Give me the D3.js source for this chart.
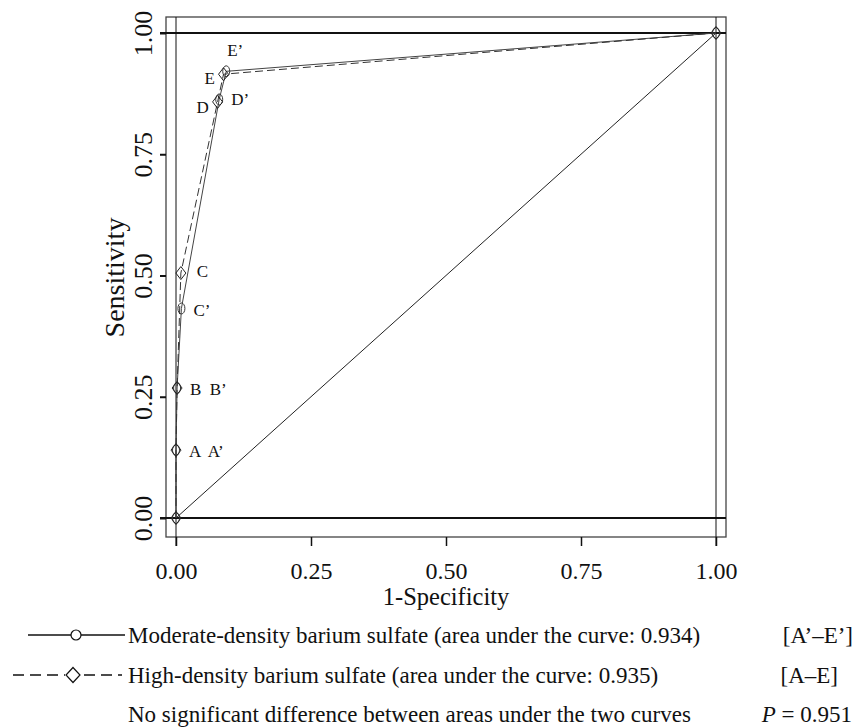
<!DOCTYPE html>
<html>
<head>
<meta charset="utf-8">
<script src="https://cdn.jsdelivr.net/npm/d3@7"></script>
<style>
  body { margin: 0; background: #fff; }
  svg text { font-family: 'Liberation Serif', 'Times New Roman', serif; fill: #111; }
</style>
</head>
<body>
<svg id="chart" width="858" height="727"></svg>
<script>
// ROC points (origin, A..E, top right)
const pointNames = ['O', 'A', 'B', 'C', 'D', 'E', 'F']
const moderateX = [0, 0, 0.002, 0.010, 0.080, 0.093, 1]
const moderateY = [0, 0.14, 0.268, 0.432, 0.863, 0.921, 1]
const highX = [0, 0, 0.002, 0.009, 0.077, 0.088, 1]
const highY = [0, 0.14, 0.268, 0.505, 0.858, 0.915, 1]
const tickValues = [0, 0.25, 0.5, 0.75, 1]

// label text + offset from its point (px)
const pointLabels = [
  { text: 'A A\u2019', series: 'high', i: 1, dx: 13, dy: 7 },
  { text: 'B B\u2019', series: 'high', i: 2, dx: 13, dy: 7 },
  { text: 'C', series: 'high', i: 3, dx: 16, dy: 4 },
  { text: 'C\u2019', series: 'mod', i: 3, dx: 12, dy: 8 },
  { text: 'D', series: 'high', i: 4, dx: -21, dy: 11 },
  { text: 'D\u2019', series: 'mod', i: 4, dx: 12, dy: 6 },
  { text: 'E', series: 'high', i: 5, dx: -19, dy: 10 },
  { text: 'E\u2019', series: 'mod', i: 5, dx: 1, dy: -15 }
]

const frame = { left: 166, right: 726, top: 17, bottom: 537 }
const x = d3.scaleLinear().domain([0, 1]).range([176, 716])
const y = d3.scaleLinear().domain([0, 1]).range([518, 33])

const svg = d3.select('#chart')

// frame
svg.append('rect')
  .attr('x', frame.left).attr('y', frame.top)
  .attr('width', frame.right - frame.left).attr('height', frame.bottom - frame.top)
  .attr('fill', 'none').attr('stroke', '#444').attr('stroke-width', 1.3)

// axes (ticks only)
const xAxis = svg.append('g')
  .attr('transform', `translate(0,${frame.bottom})`)
  .call(d3.axisBottom(x).tickValues(tickValues).tickSize(9).tickPadding(16).tickFormat(d3.format('.2f')))
xAxis.select('.domain').remove()
xAxis.selectAll('line').attr('stroke', '#111').attr('stroke-width', 1.5)
xAxis.selectAll('text').attr('font-size', 24).style('font-family', "'Liberation Serif', serif").attr('fill', '#111')

const yAxis = svg.append('g')
  .attr('transform', `translate(${frame.left},0)`)
  .call(d3.axisLeft(y).tickValues(tickValues).tickSize(6).tickFormat(d3.format('.2f')))
yAxis.select('.domain').remove()
yAxis.selectAll('line').attr('stroke', '#111').attr('stroke-width', 2)
yAxis.selectAll('text')
  .attr('transform', 'rotate(-90)')
  .attr('x', 0).attr('y', -14).attr('dy', 0)
  .attr('text-anchor', 'middle')
  .attr('font-size', 26).style('font-family', "'Liberation Serif', serif").attr('fill', '#111')

// reference lines at sensitivity 0 and 1
svg.selectAll('.hline').data([0, 1]).join('line')
  .attr('x1', frame.left - 6).attr('x2', frame.right)
  .attr('y1', (d) => y(d)).attr('y2', (d) => y(d))
  .attr('stroke', '#111').attr('stroke-width', 2)
svg.selectAll('.vline').data([0, 1]).join('line')
  .attr('y1', frame.top).attr('y2', frame.bottom + 9)
  .attr('x1', (d) => x(d)).attr('x2', (d) => x(d))
  .attr('stroke', '#111').attr('stroke-width', 1)

// chance diagonal
svg.append('line')
  .attr('x1', x(0)).attr('y1', y(0)).attr('x2', x(1)).attr('y2', y(1))
  .attr('stroke', '#222').attr('stroke-width', 1)

const modPts = moderateX.map((v, i) => [v, moderateY[i]])
const highPts = highX.map((v, i) => [v, highY[i]])
const line = d3.line().x((d) => x(d[0])).y((d) => y(d[1]))

svg.append('path').attr('d', line(modPts))
  .attr('fill', 'none').attr('stroke', '#444').attr('stroke-width', 1)
svg.append('path').attr('d', line(highPts))
  .attr('fill', 'none').attr('stroke', '#333').attr('stroke-width', 1).attr('stroke-dasharray', '8,4')

const diamond = (rx, ry) => `M0,${-ry}L${rx},0L0,${ry}L${-rx},0Z`

svg.selectAll('.mod-pt').data(modPts).join('ellipse')
  .attr('cx', (d) => x(d[0])).attr('cy', (d) => y(d[1]))
  .attr('rx', 3.5).attr('ry', 5.5)
  .attr('fill', 'none').attr('stroke', '#333').attr('stroke-width', 1)
svg.selectAll('.high-pt').data(highPts).join('path')
  .attr('transform', (d) => `translate(${x(d[0])},${y(d[1])})`)
  .attr('d', diamond(5, 6.5))
  .attr('fill', 'none').attr('stroke', '#222').attr('stroke-width', 1)

svg.selectAll('.pt-label').data(pointLabels).join('text')
  .attr('x', (d) => x((d.series === 'mod' ? moderateX : highX)[d.i]) + d.dx)
  .attr('y', (d) => y((d.series === 'mod' ? moderateY : highY)[d.i]) + d.dy)
  .attr('font-size', 17)
  .attr('word-spacing', 4)
  .text((d) => d.text)

// axis titles
svg.append('text')
  .attr('x', x(0.5)).attr('y', 605)
  .attr('text-anchor', 'middle').attr('font-size', 24.5)
  .text('1-Specificity')
svg.append('text')
  .attr('transform', `translate(124,${y(0.5) + 2}) rotate(-90)`)
  .attr('text-anchor', 'middle').attr('font-size', 28)
  .text('Sensitivity')

// legend
const legend = svg.append('g')
legend.append('line').attr('x1', 28).attr('x2', 125).attr('y1', 635).attr('y2', 635)
  .attr('stroke', '#111').attr('stroke-width', 1.5)
legend.append('circle').attr('cx', 76).attr('cy', 635).attr('r', 5)
  .attr('fill', '#fff').attr('stroke', '#111').attr('stroke-width', 1.2)
legend.selectAll('.dash').data([[13, 65], [84, 122]]).join('line')
  .attr('x1', (d) => d[0]).attr('x2', (d) => d[1]).attr('y1', 675).attr('y2', 675)
  .attr('stroke', '#111').attr('stroke-width', 1.5).attr('stroke-dasharray', '11,6')
legend.append('path').attr('transform', 'translate(73,675)').attr('d', diamond(7, 7.5))
  .attr('fill', '#fff').attr('stroke', '#111').attr('stroke-width', 1.2)

const legendRows = [
  { y: 643, main: 'Moderate-density barium sulfate (area under the curve: 0.934)', tag: '[A\u2019\u2013E\u2019]', tagEnd: 853 },
  { y: 683, main: 'High-density barium sulfate (area under the curve: 0.935)', tag: '[A\u2013E]', tagEnd: 838 },
  { y: 722, main: 'No significant difference between areas under the two curves', tag: null }
]
legendRows.forEach((r) => {
  legend.append('text').attr('x', 128).attr('y', r.y).attr('font-size', 23).text(r.main)
  if (r.tag) {
    legend.append('text').attr('x', r.tagEnd).attr('y', r.y).attr('font-size', 23)
      .attr('text-anchor', 'end').text(r.tag)
  }
})
const pText = legend.append('text').attr('x', 852).attr('y', 722).attr('font-size', 23)
  .attr('text-anchor', 'end')
pText.append('tspan').attr('font-style', 'italic').text('P')
pText.append('tspan').text(' = 0.951')
</script>
</body>
</html>
